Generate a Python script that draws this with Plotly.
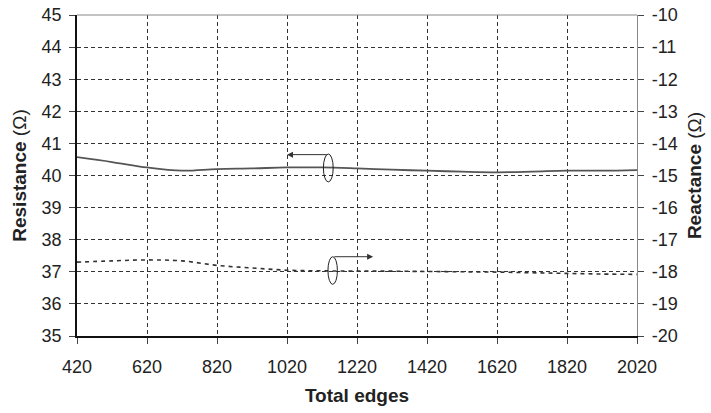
import plotly.graph_objects as go

edges = [420, 520, 620, 720, 820, 920, 1020, 1120, 1220, 1320, 1420, 1520, 1620, 1720, 1820, 1920, 2020]
resistance = [40.57, 40.42, 40.25, 40.15, 40.2, 40.22, 40.25, 40.25, 40.22, 40.18, 40.15, 40.12, 40.1, 40.12, 40.15, 40.15, 40.17]
reactance = [-17.7, -17.66, -17.63, -17.66, -17.8, -17.88, -17.95, -17.97, -17.98, -17.98, -17.99, -18.0, -18.01, -18.03, -18.05, -18.07, -18.08]

x_ticks = [420, 620, 820, 1020, 1220, 1420, 1620, 1820, 2020]
left_ticks = list(range(35, 46))
right_ticks = list(range(-20, -9))
right_labels = [str(v) for v in right_ticks]  # plain hyphen minus

FONT = "Liberation Sans, Arial, sans-serif"

fig = go.Figure()
fig.add_trace(go.Scatter(x=edges, y=resistance, mode="lines",
                         line=dict(color="#555555", width=1.8, shape="spline"),
                         showlegend=False))
fig.add_trace(go.Scatter(x=edges, y=reactance, mode="lines", yaxis="y2",
                         line=dict(color="#333333", width=1.6, dash="4px,4px", shape="spline"),
                         showlegend=False))

# ellipse markers + arrows (annotation positions)
ell1 = dict(x0=1124, x1=1152, y0=39.8, y1=40.67)
ell2 = dict(x0=1137, x1=1164, y0=36.61, y1=37.47)
fig.add_shape(type="circle", xref="x", yref="y", line=dict(color="#222222", width=1), **ell1)
fig.add_shape(type="circle", xref="x", yref="y", line=dict(color="#222222", width=1), **ell2)
fig.add_annotation(x=1020, y=40.65, ax=1138, ay=40.65, xref="x", yref="y", axref="x", ayref="y",
                   text="", showarrow=True, arrowhead=2, arrowsize=1.2, arrowwidth=1, arrowcolor="#333333")
fig.add_annotation(x=1266, y=37.47, ax=1151, ay=37.47, xref="x", yref="y", axref="x", ayref="y",
                   text="", showarrow=True, arrowhead=2, arrowsize=1.2, arrowwidth=1, arrowcolor="#333333")

# top border
fig.add_shape(type="line", xref="paper", yref="paper", x0=0, x1=1, y0=1, y1=1,
              line=dict(color="#888888", width=1.2))

fig.update_layout(
    width=711, height=413,
    margin=dict(l=77, r=74, t=15, b=77),
    paper_bgcolor="white", plot_bgcolor="white",
    font=dict(family=FONT, size=18, color="#222222"),
    xaxis=dict(range=[420, 2020], tickvals=x_ticks, ticks="outside", ticklen=6,
               showgrid=True, gridcolor="#333333", griddash="4px,3px", gridwidth=1,
               showline=True, linecolor="#111111", linewidth=1.5, zeroline=False,
               tickfont=dict(size=18), ticklabelstandoff=8, automargin=False,
               title=dict(text="<b>Total edges</b>", font=dict(size=19), standoff=12)),
    yaxis=dict(range=[35, 45], tickvals=left_ticks, ticks="outside", ticklen=6,
               showgrid=True, gridcolor="#333333", griddash="4px,3px", gridwidth=1,
               showline=True, linecolor="#111111", linewidth=1.5, zeroline=False,
               tickfont=dict(size=18), ticklabelstandoff=4, automargin=False,
               title=dict(text="<b>Resistance</b> (Ω)", font=dict(size=19), standoff=10)),
    yaxis2=dict(range=[-20, -10], tickvals=right_ticks, ticktext=right_labels,
                overlaying="y", side="right",
                ticks="outside", ticklen=6, showgrid=False, zeroline=False,
                showline=True, linecolor="#888888", linewidth=1.2,
                tickfont=dict(size=18), ticklabelstandoff=4, automargin=False,
                title=dict(text="<b>Reactance</b> (Ω)", font=dict(size=19), standoff=10)),
)

fig.write_html("out.html")
